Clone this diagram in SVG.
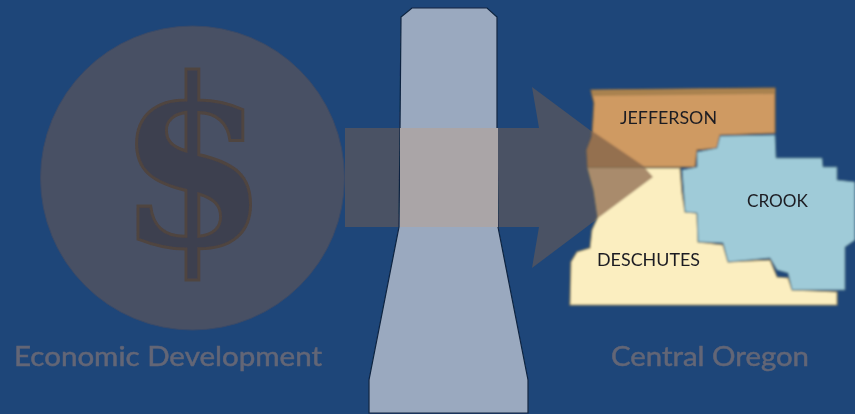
<svg xmlns="http://www.w3.org/2000/svg" width="855" height="414" viewBox="0 0 855 414">
<defs>
<filter id="soft" x="-5%" y="-5%" width="110%" height="110%"><feGaussianBlur stdDeviation="0.8"/></filter>
<filter id="softer" x="-5%" y="-5%" width="110%" height="110%"><feGaussianBlur stdDeviation="0.4"/></filter>
<filter id="softtext" x="-5%" y="-20%" width="110%" height="140%"><feGaussianBlur stdDeviation="0.45"/></filter>
</defs>
<style>
.lbl{font-family:Lato,"Liberation Sans",sans-serif;font-size:27px;fill:#636676;stroke:#636676;stroke-width:.5px;filter:url(#softtext)}
.map{font-family:Lato,"Liberation Sans",sans-serif;font-size:17px;fill:#1c1c22;filter:url(#softtext)}
</style>
<rect width="855" height="414" fill="#1e4679"/>
<g id="economic-development">
<circle cx="192.5" cy="178" r="152" fill="#485064" stroke="#3a4a68" stroke-width="1"/>
<text transform="translate(193 246) scale(0.98 1.05)" text-anchor="middle" font-family="DejaVu Serif,serif" font-weight="700" font-size="222" fill="#3e4150" stroke="#4f4440" stroke-width="3" filter="url(#softtext)">$</text>
<text class="lbl" x="14" y="366" textLength="308" lengthAdjust="spacingAndGlyphs">Economic Development</text>
</g>
<g id="connectors">
<path id="flow-arrow" d="M345 128H539L532 87L653 177L532 268L539 227H345Z" fill="#4a5264"/>
</g>
<g id="barrier">
<path d="M412 8H487L497 17V128L498 227L528 380V413H369V380L399 227L400 128L401 17Z" fill="#9aa9bf" stroke="#0f2440" stroke-width="1.2" filter="url(#softer)"/>
<rect x="400" y="128" width="98" height="99" fill="#aaa5a7"/>
</g>
<g id="central-oregon">
<g filter="url(#soft)">
<path id="deschutes" d="M588 168H680L682 193L685 212L697 213L698 242L723 245L728 262L770 260L777 277L788 278L792 290L837 292V305H570L571 262L577 252L590 248L592 230L598 217L594 190Z" fill="#fbeec0" stroke="#a08a55" stroke-width="1.2"/>
<path id="jefferson" d="M591 90L775 88V133L720 135L717 148L697 150L695 167L588 167L587 150L592 137L594 103Z" fill="#cf9a62" stroke="#8f6a3c" stroke-width="1.2"/>
<path d="M592 90L775 89V94L592 96Z" fill="#a9824f"/>
<path id="crook" d="M720 136L775 135L776 158L822 158L823 167L837 167L837 180L855 182V240L845 247V290L792 290L788 273L777 270L770 258L750 260L728 262L723 243L698 242L697 213L685 212L682 170L697 167L697 152L717 148Z" fill="#9fcbd8" stroke="#5b7f8c" stroke-width="1"/>
<path d="M592 131L645 167H588L587 150L592 137Z" fill="#94704f"/>
<path d="M588 168H645L653 177L598 218L594 190Z" fill="#a98b6c"/>
</g>
<text class="map" x="620" y="124" textLength="97" lengthAdjust="spacingAndGlyphs">JEFFERSON</text>
<text class="map" x="747" y="207" textLength="61" lengthAdjust="spacingAndGlyphs">CROOK</text>
<text class="map" x="597" y="266" textLength="103" lengthAdjust="spacingAndGlyphs">DESCHUTES</text>
<text class="lbl" x="611" y="366" textLength="198" lengthAdjust="spacingAndGlyphs">Central Oregon</text>
</g>
</svg>
